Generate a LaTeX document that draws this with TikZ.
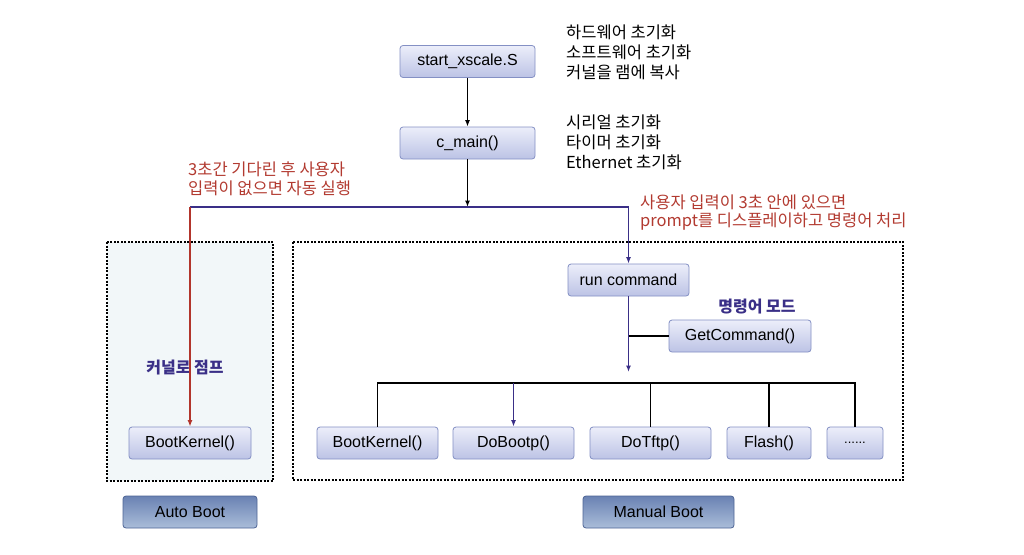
\documentclass[tikz,border=0pt]{standalone}
\usepackage{fontspec}
\setmainfont{Liberation Sans}
\newfontfamily\kr{Noto Sans CJK KR}
\usetikzlibrary{arrows.meta}
\definecolor{boxtop}{HTML}{ECEEFA}
\definecolor{boxbot}{HTML}{BCC3E5}
\definecolor{boxborder}{HTML}{8490C4}
\definecolor{btntop}{HTML}{6A82B3}
\definecolor{btnbot}{HTML}{AABDD9}
\definecolor{btnborder}{HTML}{4D6494}
\definecolor{indigo}{HTML}{3A2F87}
\definecolor{redline}{HTML}{B2352C}
\definecolor{redtext}{HTML}{B23A30}
\definecolor{autofill}{HTML}{F2F7F9}
\tikzset{
  fbox/.style={draw=boxborder, line width=0.8pt, rounded corners=3pt, top color=boxtop, bottom color=boxbot, minimum height=32pt, inner sep=0pt, font=\fontsize{16}{19}\selectfont},
  btn/.style={draw=btnborder, line width=0.8pt, rounded corners=3pt, top color=btntop, bottom color=btnbot, minimum height=32pt, inner sep=0pt, font=\fontsize{16}{19}\selectfont},
  grp/.style={line width=2.6pt, dash pattern=on 2pt off 1.5pt, draw=black},
  note/.style={font=\kr\fontsize{16.5}{20}\selectfont, align=left, anchor=west, inner sep=0pt},
  rednote/.style={note, text=redtext, font=\kr\fontsize{16.5}{18.5}\selectfont},
  hint/.style={font=\kr\bfseries\fontsize{16}{19}\selectfont, text=indigo, inner sep=0pt},
  arr/.style={-{Latex[length=6.5pt,width=5pt]}},
  blk/.style={draw=black, line width=1.5pt},
  blu/.style={draw=indigo, line width=1.5pt},
  rd/.style={draw=redline, line width=1.5pt},
}
\begin{document}
\begin{tikzpicture}[x=1pt,y=-1pt]
\useasboundingbox (0,0) rectangle (1024,554);
% group boxes
\draw[grp, fill=autofill] (107,242) rectangle (273,481);
\draw[grp, fill=white] (293,242) rectangle (903,480);
% main nodes
\node[fbox, minimum width=135pt] (start) at (467.5,61.5) {start\_xscale.S};
\node[fbox, minimum width=135pt] (cmain) at (467.5,143) {c\_main()};
\node[fbox, minimum width=121pt] (run) at (628.5,280) {run command};
\node[fbox, minimum width=142pt] (getc) at (740,336) {GetCommand()};
\node[fbox, minimum width=122pt] (aBK) at (190,443) {BootKernel()};
\node[fbox, minimum width=121pt] (mBK) at (377.5,443) {BootKernel()};
\node[fbox, minimum width=121pt] (bootp) at (513.5,443) {DoBootp()};
\node[fbox, minimum width=121pt] (tftp) at (650.5,443) {DoTftp()};
\node[fbox, minimum width=84pt] (flash) at (769,443) {Flash()};
\node[fbox, minimum width=56pt, font=\fontsize{13}{15}\selectfont] (more) at (855,443) {......};
\node[btn, minimum width=134pt] (auto) at (190,512) {Auto Boot};
\node[btn, minimum width=151pt] (manual) at (658.5,512) {Manual Boot};
% texts
\node[note] (hw) at (566,52.5) {하드웨어 초기화\\소프트웨어 초기화\\커널을 램에 복사};
\node[note] (ser) at (566,142) {시리얼 초기화\\타이머 초기화\\Ethernet 초기화};
\node[rednote] (r1) at (188,179) {3초간 기다린 후 사용자\\입력이 없으면 자동 실행};
\node[rednote] (r2) at (640,212.5) {사용자 입력이 3초 안에 있으면\\prompt를 디스플레이하고 명령어 처리};
\node[hint] (mode) at (757,307) {명령어 모드};
\node[hint] (jump) at (185,368) {커널로 점프};
% coordinates
\coordinate (J) at (467.5,207);
\coordinate (L) at (190,207);
\coordinate (R) at (628.5,372);
\coordinate (bus) at (0,383);
% connectors
\draw[blk, arr] (start.south) -- (cmain.north);
\draw[blk, arr] (cmain.south) -- (J);
\draw[blu, arr] (L) -| (run.north);
\draw[rd, arr] (L) -- (aBK.north);
\draw[blu, arr] (run.south) -- (R);
\draw[blk] (getc.west) -- (getc.west -| run.south);
\draw[blk] (mBK.north) |- (more.north |- bus) -- (more.north);
\draw[blk] (tftp.north) -- (tftp.north |- bus);
\draw[blk] (flash.north) -- (flash.north |- bus);
\draw[blu, arr] (bootp.north |- bus) -- (bootp.north);
\end{tikzpicture}
\end{document}
